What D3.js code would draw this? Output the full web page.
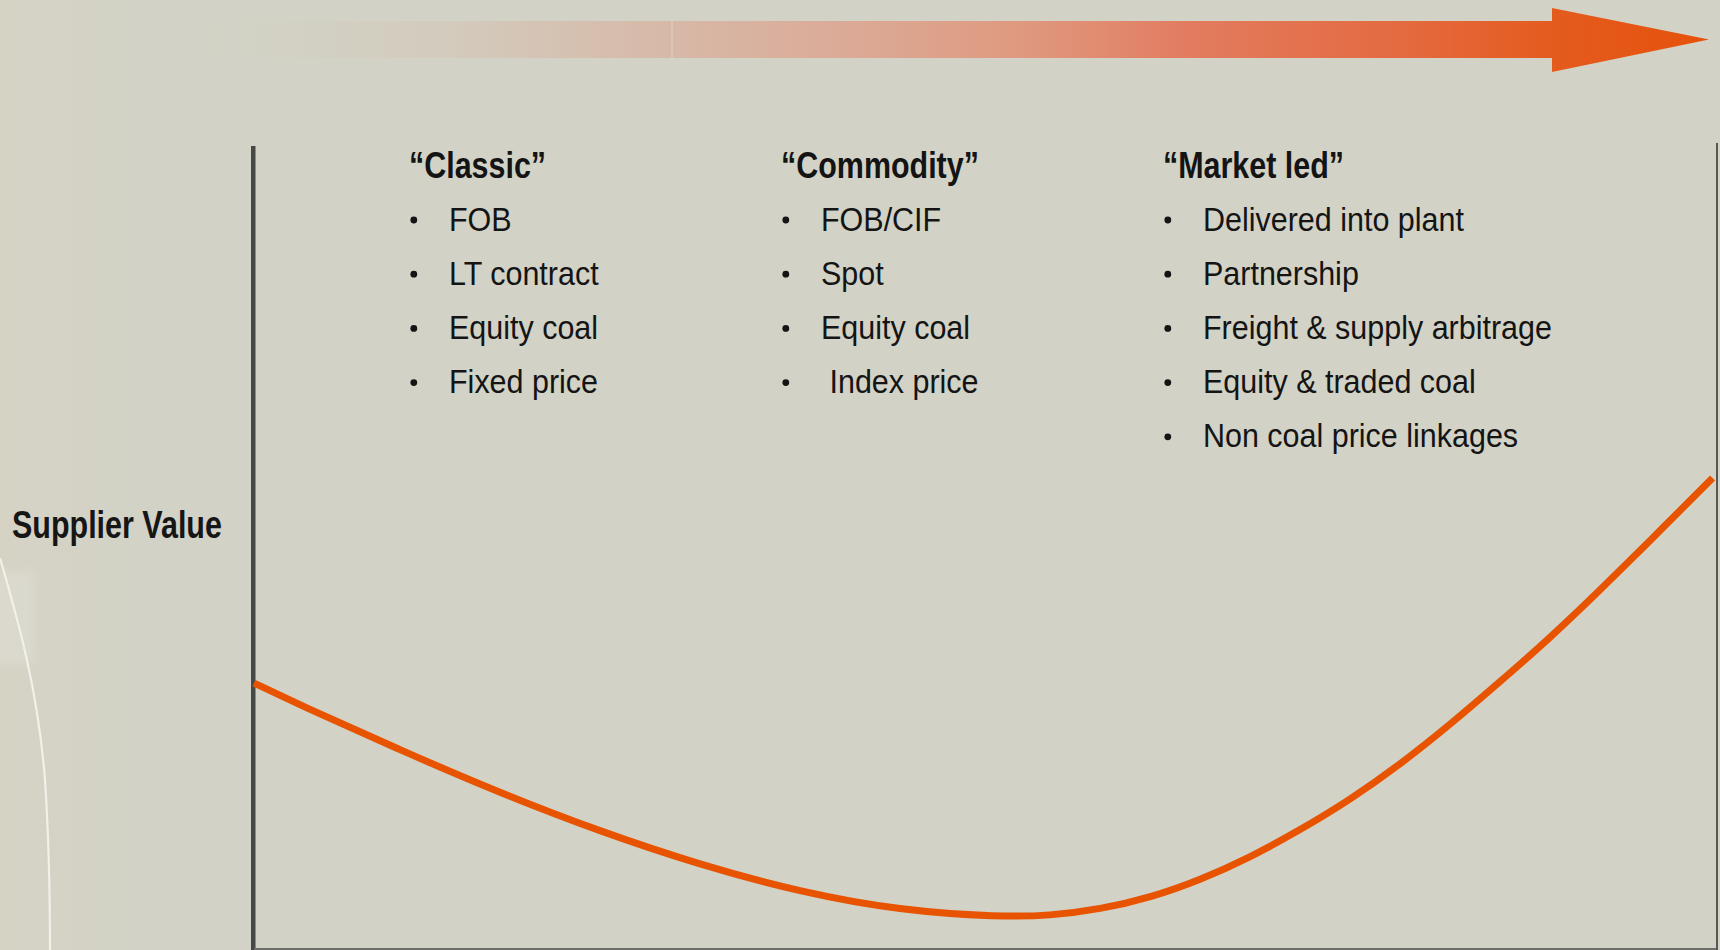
<!DOCTYPE html>
<html>
<head>
<meta charset="utf-8">
<script src="https://cdn.jsdelivr.net/npm/d3@7"></script>
<style>
  html, body { margin: 0; padding: 0; background: #d2d2c6; overflow: hidden; }
  svg { display: block; }
  text { white-space: pre; }
</style>
</head>
<body>
<svg id="chart" width="1720" height="950"></svg>
<script>
// ---- content ----
const stageTitles = ["\u201CClassic\u201D", "\u201CCommodity\u201D", "\u201CMarket led\u201D"];
const classicItems = ["FOB", "LT contract", "Equity coal", "Fixed price"];
const commodityItems = ["FOB/CIF", "Spot", "Equity coal", " Index price"];
const marketLedItems = ["Delivered into plant", "Partnership", "Freight & supply arbitrage",
                        "Equity & traded coal", "Non coal price linkages"];
const yAxisLabel = "Supplier Value";

// supplier value along market development (both on a 0-100 scale)
const development   = [0, 3.15, 10, 16.85, 23.7, 30.55, 37.4, 44.25, 51.1, 54.5, 57.95, 61.4, 64.8, 68.2, 71.6, 75.1, 78.5, 81.9, 85.3, 88.8, 92.2, 95.6, 99.9];
const supplierValue = [33.12, 30.38, 24.75, 19.38, 14.56, 10.38, 7.0, 4.69, 3.88, 4.03, 4.84, 6.31, 8.5, 11.31, 14.69, 18.56, 22.94, 27.88, 33.22, 38.81, 44.75, 50.88, 58.75];

// ---- layout ----
const W = 1720, H = 950;
const plot = { left: 254, right: 1714, top: 148, bottom: 948 };
const svg = d3.select("#chart");

const x = d3.scaleLinear().domain([0, 100]).range([plot.left, plot.right]);
const y = d3.scaleLinear().domain([0, 100]).range([plot.bottom, plot.top]);

const FONT = "'Liberation Sans Narrow', 'Arial Narrow', 'Liberation Sans', Arial, sans-serif";

// condensed look: squeeze text horizontally to the narrow proportions
function measure(str, size, weight) {
  const t = svg.append("text").attr("font-family", FONT).attr("font-size", size)
    .attr("font-weight", weight).attr("opacity", 0).text(str);
  const w = t.node().getComputedTextLength();
  t.remove();
  return w;
}
const squeezeLabel = Math.min(1, 210 / measure(yAxisLabel, 38.5, "bold"));
const squeezeTitle = Math.min(1, 198 / measure(stageTitles[1], 36, "bold"));
const squeezeItem = Math.min(1, 349 / measure(marketLedItems[2], 32.5, "normal"));

// ---- background ----
const defs = svg.append("defs");
const bgGrad = defs.append("linearGradient").attr("id", "bg").attr("x1", 0).attr("x2", 1).attr("y1", 0).attr("y2", 0);
bgGrad.append("stop").attr("offset", 0).attr("stop-color", "#d6d3c5");
bgGrad.append("stop").attr("offset", 0.08).attr("stop-color", "#d2d2c6");
bgGrad.append("stop").attr("offset", 1).attr("stop-color", "#d2d2c6");
svg.append("rect").attr("width", W).attr("height", H).attr("fill", "url(#bg)");

// soft decorative swoosh at the left edge
const blur = defs.append("filter").attr("id", "soft").attr("x", "-50%").attr("y", "-50%").attr("width", "200%").attr("height", "200%");
blur.append("feGaussianBlur").attr("stdDeviation", 5);
svg.append("rect").attr("x", -6).attr("y", 572).attr("width", 40).attr("height", 92)
  .attr("fill", "#e2e1d8").attr("opacity", 0.45).attr("filter", "url(#soft)");
svg.append("path")
  .attr("d", "M0,558 C18,620 38,690 45,780 C49,840 50,900 50,952")
  .attr("fill", "none").attr("stroke", "#f4f3ec").attr("stroke-width", 2.2).attr("opacity", 0.9);

// ---- progression arrow across the top ----
const arrowGrad = defs.append("linearGradient").attr("id", "arrowGrad")
  .attr("gradientUnits", "userSpaceOnUse").attr("x1", 170).attr("x2", 1709).attr("y1", 0).attr("y2", 0);
[
  [0.00, "#d2d2c6", 0],
  [0.08, "#d2d1c4", 1],
  [0.18, "#d3cbbd", 1],
  [0.32, "#d7b9a8", 1],
  [0.44, "#dbaa97", 1],
  [0.55, "#df9a80", 1],
  [0.66, "#e27c60", 1],
  [0.80, "#e46a40", 1],
  [0.90, "#e45b1e", 1],
  [1.00, "#e6520b", 1]
].forEach(([o, c, a]) => arrowGrad.append("stop").attr("offset", o).attr("stop-color", c).attr("stop-opacity", a));

const shaft = { x0: 170, x1: 1552, y0: 21, y1: 58 };
const head = { top: 8, bottom: 72, tipX: 1709 };
svg.append("path")
  .attr("d", d3.line()([
    [shaft.x0, shaft.y0], [shaft.x1, shaft.y0], [shaft.x1, head.top],
    [head.tipX, (shaft.y0 + shaft.y1) / 2], [shaft.x1, head.bottom],
    [shaft.x1, shaft.y1], [shaft.x0, shaft.y1]
  ]) + "Z")
  .attr("fill", "url(#arrowGrad)");
// faint seam in the shaft
svg.append("line").attr("x1", 672).attr("x2", 672).attr("y1", shaft.y0).attr("y2", shaft.y1)
  .attr("stroke", "#e2d8cc").attr("stroke-width", 1).attr("opacity", 0.8);

// ---- frame ----
svg.append("line").attr("x1", x(0) - 1).attr("x2", x(0) - 1).attr("y1", 146).attr("y2", H)
  .attr("stroke", "#464946").attr("stroke-width", 4);
svg.append("line").attr("x1", x(0) + 1.5).attr("x2", x(0) + 1.5).attr("y1", 146).attr("y2", H)
  .attr("stroke", "#8c8d86").attr("stroke-width", 1);
svg.append("line").attr("x1", x(0)).attr("x2", 1718).attr("y1", 949).attr("y2", 949)
  .attr("stroke", "#6d6e69").attr("stroke-width", 2);
svg.append("line").attr("x1", 1717).attr("x2", 1717).attr("y1", 143).attr("y2", H)
  .attr("stroke", "#585955").attr("stroke-width", 2);

// ---- supplier value curve ----
const pts = development.map((d, i) => [d, supplierValue[i]]);
svg.append("path")
  .datum(pts)
  .attr("fill", "none")
  .attr("stroke", "#e85300")
  .attr("stroke-width", 7)
  .attr("d", d3.line().x(d => x(d[0])).y(d => y(d[1])).curve(d3.curveBasis));

// ---- y label ----
svg.append("text")
  .attr("transform", `translate(12,538) scale(${squeezeLabel},1)`)
  .attr("font-family", FONT).attr("font-weight", "bold").attr("font-size", 38.5)
  .attr("fill", "#161616").text(yAxisLabel);

// ---- stage columns ----
const columns = [
  { title: stageTitles[0], items: classicItems, left: 409 },
  { title: stageTitles[1], items: commodityItems, left: 781 },
  { title: stageTitles[2], items: marketLedItems, left: 1163 }
];
const titleBase = 178, firstItem = 230.5, step = 54.2;

columns.forEach(col => {
  svg.append("text")
    .attr("transform", `translate(${col.left},${titleBase}) scale(${squeezeTitle},1)`)
    .attr("font-family", FONT).attr("font-weight", "bold").attr("font-size", 36)
    .attr("fill", "#141414").text(col.title);
  col.items.forEach((item, i) => {
    const yy = firstItem + i * step;
    svg.append("circle").attr("cx", col.left + 4.8).attr("cy", yy - 10.5).attr("r", 3.4)
      .attr("fill", "#141414");
    svg.append("text")
      .attr("transform", `translate(${col.left + 40},${yy}) scale(${squeezeItem},1)`)
      .attr("font-family", FONT).attr("font-size", 32.5)
      .attr("fill", "#141414").text(item);
  });
});
</script>
</body>
</html>
